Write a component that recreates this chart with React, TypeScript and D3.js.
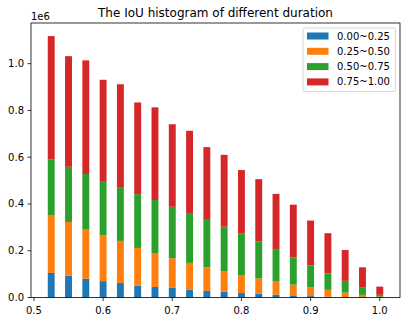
import React from 'react';
import * as d3 from 'd3';

// bar centres (IoU) and stacked counts per duration bucket
const iouBins = [0.525, 0.55, 0.575, 0.6, 0.625, 0.65, 0.675, 0.7, 0.725, 0.75,
  0.775, 0.8, 0.825, 0.85, 0.875, 0.9, 0.925, 0.95, 0.975, 1.0];
const d000_025 = [105000, 93000, 80000, 70000, 62000, 50000, 45000, 41000, 34000, 28000,
  25000, 19000, 16000, 12000, 9000, 6000, 4000, 2000, 1000, 500];
const d025_050 = [248000, 230000, 213000, 196000, 180000, 162000, 145000, 127000, 114000, 101000,
  88000, 77000, 66000, 56000, 46000, 37000, 29000, 19000, 10000, 3000];
const d050_075 = [237000, 236000, 235000, 232000, 230000, 230000, 227000, 220000, 213000, 203000,
  190000, 177000, 157000, 139000, 117000, 94000, 70000, 50000, 31000, 8000];
const d075_100 = [528000, 473000, 486000, 433000, 440000, 392000, 396000, 353000, 352000, 311000,
  307000, 272000, 267000, 236000, 225000, 192000, 172000, 132000, 87000, 35000];

const seriesNames = ['0.00~0.25', '0.25~0.50', '0.50~0.75', '0.75~1.00'];
const seriesValues = [d000_025, d025_050, d050_075, d075_100];
const colors = ['#1f77b4', '#ff7f0e', '#2ca02c', '#d62728'];
const xTicks = [0.5, 0.6, 0.7, 0.8, 0.9, 1.0];
const yTicks = [0, 0.2e6, 0.4e6, 0.6e6, 0.8e6, 1.0e6];

const W = 408;
const H = 323;
const margin = { top: 23, right: 8, bottom: 25.5, left: 31 };
const barWidth = 0.01;
const font = 'DejaVu Sans, sans-serif';

export default function App() {
  const rows = iouBins.map((x, i) => {
    const r: any = { x };
    seriesNames.forEach((n, k) => (r[n] = seriesValues[k][i]));
    return r;
  });
  const stacked = d3.stack().keys(seriesNames)(rows);
  const maxTotal = d3.max(stacked[stacked.length - 1], (d) => d[1]) as number;

  const x0 = d3.min(iouBins)! - barWidth / 2;
  const x1 = d3.max(iouBins)! + barWidth / 2;
  const pad = (x1 - x0) * 0.05;
  const x = d3.scaleLinear().domain([x0 - pad, x1 + pad]).range([margin.left, W - margin.right]);
  const y = d3.scaleLinear().domain([0, maxTotal * 1.05]).range([H - margin.bottom, margin.top]);

  const left = margin.left;
  const right = W - margin.right;
  const top = margin.top;
  const bottom = H - margin.bottom;
  const bw = x(barWidth) - x(0);

  return (
    <svg width={W} height={H} style={{ position: 'absolute', left: 0, top: 0, background: '#fff' }}
      fontFamily={font}>
      <rect width={W} height={H} fill="#fff" />
      {stacked.map((s, k) => (
        <g key={s.key} fill={colors[k]}>
          {s.map((d, i) => (
            <rect key={i} x={x(iouBins[i]) - bw / 2} width={bw}
              y={y(d[1])} height={Math.max(0, y(d[0]) - y(d[1]))} />
          ))}
        </g>
      ))}
      {/* spines */}
      <rect x={left} y={top} width={right - left} height={bottom - top}
        fill="none" stroke="#000" strokeWidth={0.8} />
      {/* x ticks */}
      {xTicks.map((t) => (
        <g key={t} transform={`translate(${x(t)},${bottom})`}>
          <line y2={3.5} stroke="#000" strokeWidth={0.8} />
          <text y={16.5} textAnchor="middle" fontSize={10} fill="#000">{t.toFixed(1)}</text>
        </g>
      ))}
      {/* y ticks */}
      {yTicks.map((t) => (
        <g key={t} transform={`translate(${left},${y(t)})`}>
          <line x2={-3.5} stroke="#000" strokeWidth={0.8} />
          <text x={-7} dy="0.35em" textAnchor="end" fontSize={10} fill="#000">{(t / 1e6).toFixed(1)}</text>
        </g>
      ))}
      <text x={left} y={top - 3} fontSize={10} fill="#000">1e6</text>
      <text x={(left + right) / 2} y={top - 6} textAnchor="middle" fontSize={12} fill="#000">
        The IoU histogram of different duration
      </text>
      {/* legend */}
      <g transform={`translate(${right - 97},${top + 5})`}>
        <rect width={92.5} height={63.5} rx={2} fill="#fff" fillOpacity={0.8} stroke="#ccc" strokeWidth={0.8} />
        {seriesNames.map((n, k) => (
          <g key={n} transform={`translate(4,${8 + k * 15.3})`}>
            <rect x={0} y={-3.5} width={21.5} height={7} fill={colors[k]} />
            <text x={30} dy="0.35em" fontSize={10} fill="#000">{n}</text>
          </g>
        ))}
      </g>
    </svg>
  );
}
